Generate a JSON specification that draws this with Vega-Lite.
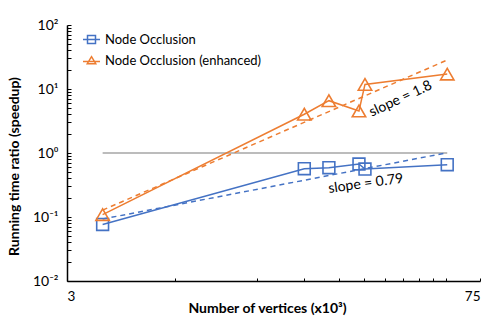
{
  "$schema": "https://vega.github.io/schema/vega-lite/v6.json",
  "width": 413,
  "height": 256,
  "autosize": "none",
  "padding": {"left": 67, "top": 25, "right": 18, "bottom": 43},
  "background": "white",
  "config": {"font": "Lato", "view": {"stroke": null}, "axis": {"grid": false}},
  "datasets": {
    "pts": [
      {"series": "Node Occlusion", "x": 3.96, "y": 0.0764},
      {"series": "Node Occlusion", "x": 19.07, "y": 0.569},
      {"series": "Node Occlusion", "x": 23.1, "y": 0.589},
      {"series": "Node Occlusion", "x": 29.2, "y": 0.673},
      {"series": "Node Occlusion", "x": 30.6, "y": 0.562},
      {"series": "Node Occlusion", "x": 58.1, "y": 0.656},
      {"series": "Node Occlusion (enhanced)", "x": 3.96, "y": 0.109},
      {"series": "Node Occlusion (enhanced)", "x": 19.07, "y": 4.03},
      {"series": "Node Occlusion (enhanced)", "x": 23.1, "y": 6.57},
      {"series": "Node Occlusion (enhanced)", "x": 29.2, "y": 4.53},
      {"series": "Node Occlusion (enhanced)", "x": 30.6, "y": 11.8},
      {"series": "Node Occlusion (enhanced)", "x": 58.1, "y": 17.1}
    ],
    "fit": [
      {"series": "Node Occlusion", "x": 3.96, "y": 0.093},
      {"series": "Node Occlusion", "x": 58.1, "y": 1.01},
      {"series": "Node Occlusion (enhanced)", "x": 3.96, "y": 0.128},
      {"series": "Node Occlusion (enhanced)", "x": 58.1, "y": 28.4}
    ]
  },
  "resolve": {"legend": {"color": "independent", "shape": "independent"}},
  "encoding": {
    "x": {
      "field": "x",
      "type": "quantitative",
      "scale": {"type": "log", "domain": [3, 75], "nice": false},
      "axis": {
        "title": "Number of vertices (x10³)",
        "values": [3, 6.96, 13.2, 19.07, 24.9, 30.4, 35.9, 41.1, 46.6, 52.0, 57.4, 75],
        "labelExpr": "datum.value == 3 ? '3' : datum.value == 75 ? '75' : ''",
        "tickSize": -3,
        "tickColor": "#000",
        "tickWidth": 1,
        "domainColor": "#000",
        "domainWidth": 1.5,
        "labelFont": "Lato",
        "labelFontSize": 13.5,
        "labelColor": "#000",
        "labelPadding": 11,
        "labelOverlap": false,
        "labelFlush": true,
        "titleFont": "Lato",
        "titleFontSize": 14,
        "titleFontWeight": "bold",
        "titleColor": "#000",
        "titleBaseline": "alphabetic",
        "titleX": 200,
        "titleY": 31
      }
    },
    "y": {
      "field": "y",
      "type": "quantitative",
      "scale": {"type": "log", "domain": [0.01, 100], "nice": false},
      "axis": {
        "title": "Running time ratio (speedup)",
        "values": [0.01, 0.02, 0.03, 0.04, 0.05, 0.06, 0.07, 0.08, 0.09, 0.1, 0.2, 0.3, 0.4, 0.5, 0.6, 0.7, 0.8, 0.9, 1, 2, 3, 4, 5, 6, 7, 8, 9, 10, 20, 30, 40, 50, 60, 70, 80, 90, 100],
        "labelExpr": "datum.value == 100 ? '10²' : datum.value == 10 ? '10¹' : datum.value == 1 ? '10⁰' : datum.value == 0.1 ? '10⁻¹' : datum.value == 0.01 ? '10⁻²' : ''",
        "tickSize": -4,
        "tickColor": "#000",
        "tickWidth": 1,
        "domainColor": "#000",
        "domainWidth": 1.5,
        "labelFont": "Lato",
        "labelFontSize": 14,
        "labelColor": "#000",
        "labelPadding": 13,
        "labelOverlap": false,
        "titleFont": "Lato",
        "titleFontSize": 14,
        "titleFontWeight": "bold",
        "titleColor": "#000",
        "titleBaseline": "middle",
        "titleX": -53,
        "titleY": 141
      }
    }
  },
  "layer": [
    {
      "data": {"values": [{"x": 3.96, "x2": 58.1, "y": 1}]},
      "mark": {"type": "rule", "color": "#A6A6A6", "strokeWidth": 1.5},
      "encoding": {"x2": {"field": "x2"}}
    },
    {
      "data": {"name": "fit"},
      "mark": {"type": "line", "strokeWidth": 1.5, "strokeDash": [5, 4]},
      "encoding": {
        "color": {"field": "series", "type": "nominal", "legend": null,
          "scale": {"domain": ["Node Occlusion", "Node Occlusion (enhanced)"], "range": ["#4472C4", "#ED7D31"]}}
      }
    },
    {
      "data": {"name": "pts"},
      "mark": {"type": "line", "strokeWidth": 1.5},
      "encoding": {
        "color": {"field": "series", "type": "nominal", "legend": null,
          "scale": {"domain": ["Node Occlusion", "Node Occlusion (enhanced)"], "range": ["#4472C4", "#ED7D31"]}}
      }
    },
    {
      "data": {"name": "pts"},
      "transform": [{"filter": "datum.series == 'Node Occlusion'"}],
      "mark": {"type": "point", "shape": "square", "filled": false, "size": 140, "strokeWidth": 1.6, "color": "#4472C4", "opacity": 1}
    },
    {
      "data": {"name": "pts"},
      "transform": [{"filter": "datum.series == 'Node Occlusion (enhanced)'"}],
      "mark": {"type": "point", "shape": "triangle-up", "filled": false, "size": 180, "strokeWidth": 1.6, "color": "#ED7D31", "opacity": 1}
    },
    {
      "data": {"values": [{"x": 40.4, "y": 6.98, "label": "slope = 1.8"}]},
      "mark": {"type": "text", "angle": -25, "font": "Lato", "fontSize": 14, "color": "#000", "align": "center", "baseline": "middle"},
      "encoding": {"text": {"field": "label"}}
    },
    {
      "data": {"values": [{"x": 30.8, "y": 0.33, "label": "slope = 0.79"}]},
      "mark": {"type": "text", "angle": -8, "font": "Lato", "fontSize": 14, "color": "#000", "align": "center", "baseline": "middle"},
      "encoding": {"text": {"field": "label"}}
    },
    {
      "data": {"values": [{"series": "Node Occlusion"}, {"series": "Node Occlusion (enhanced)"}]},
      "mark": {"type": "point", "filled": false, "size": 289, "strokeWidth": 1.5, "opacity": 1},
      "encoding": {
        "color": {"field": "series", "type": "nominal",
          "scale": {"domain": ["Node Occlusion", "Node Occlusion (enhanced)"], "range": ["#4472C4", "#ED7D31"]},
          "legend": {"title": null, "orient": "none", "legendX": 15, "legendY": 5, "padding": 0,
            "labelFont": "Lato", "labelFontSize": 13, "labelLimit": 400, "labelColor": "#000", "symbolSize": 289,
            "symbolStrokeWidth": 1.5, "rowPadding": 4, "labelOffset": 4}},
        "shape": {"field": "series", "type": "nominal",
          "scale": {"domain": ["Node Occlusion", "Node Occlusion (enhanced)"],
            "range": ["M-1,0H1M-0.47,-0.47H0.47V0.47H-0.47Z", "M-1,0.12H1M0,-0.45L0.5,0.38L-0.5,0.38Z"]},
          "legend": {"title": null, "orient": "none", "legendX": 15, "legendY": 5, "padding": 0,
            "labelFont": "Lato", "labelFontSize": 13, "labelLimit": 400, "labelColor": "#000", "symbolSize": 289,
            "symbolStrokeWidth": 1.5, "rowPadding": 4, "labelOffset": 4}}
      }
    }
  ]
}
